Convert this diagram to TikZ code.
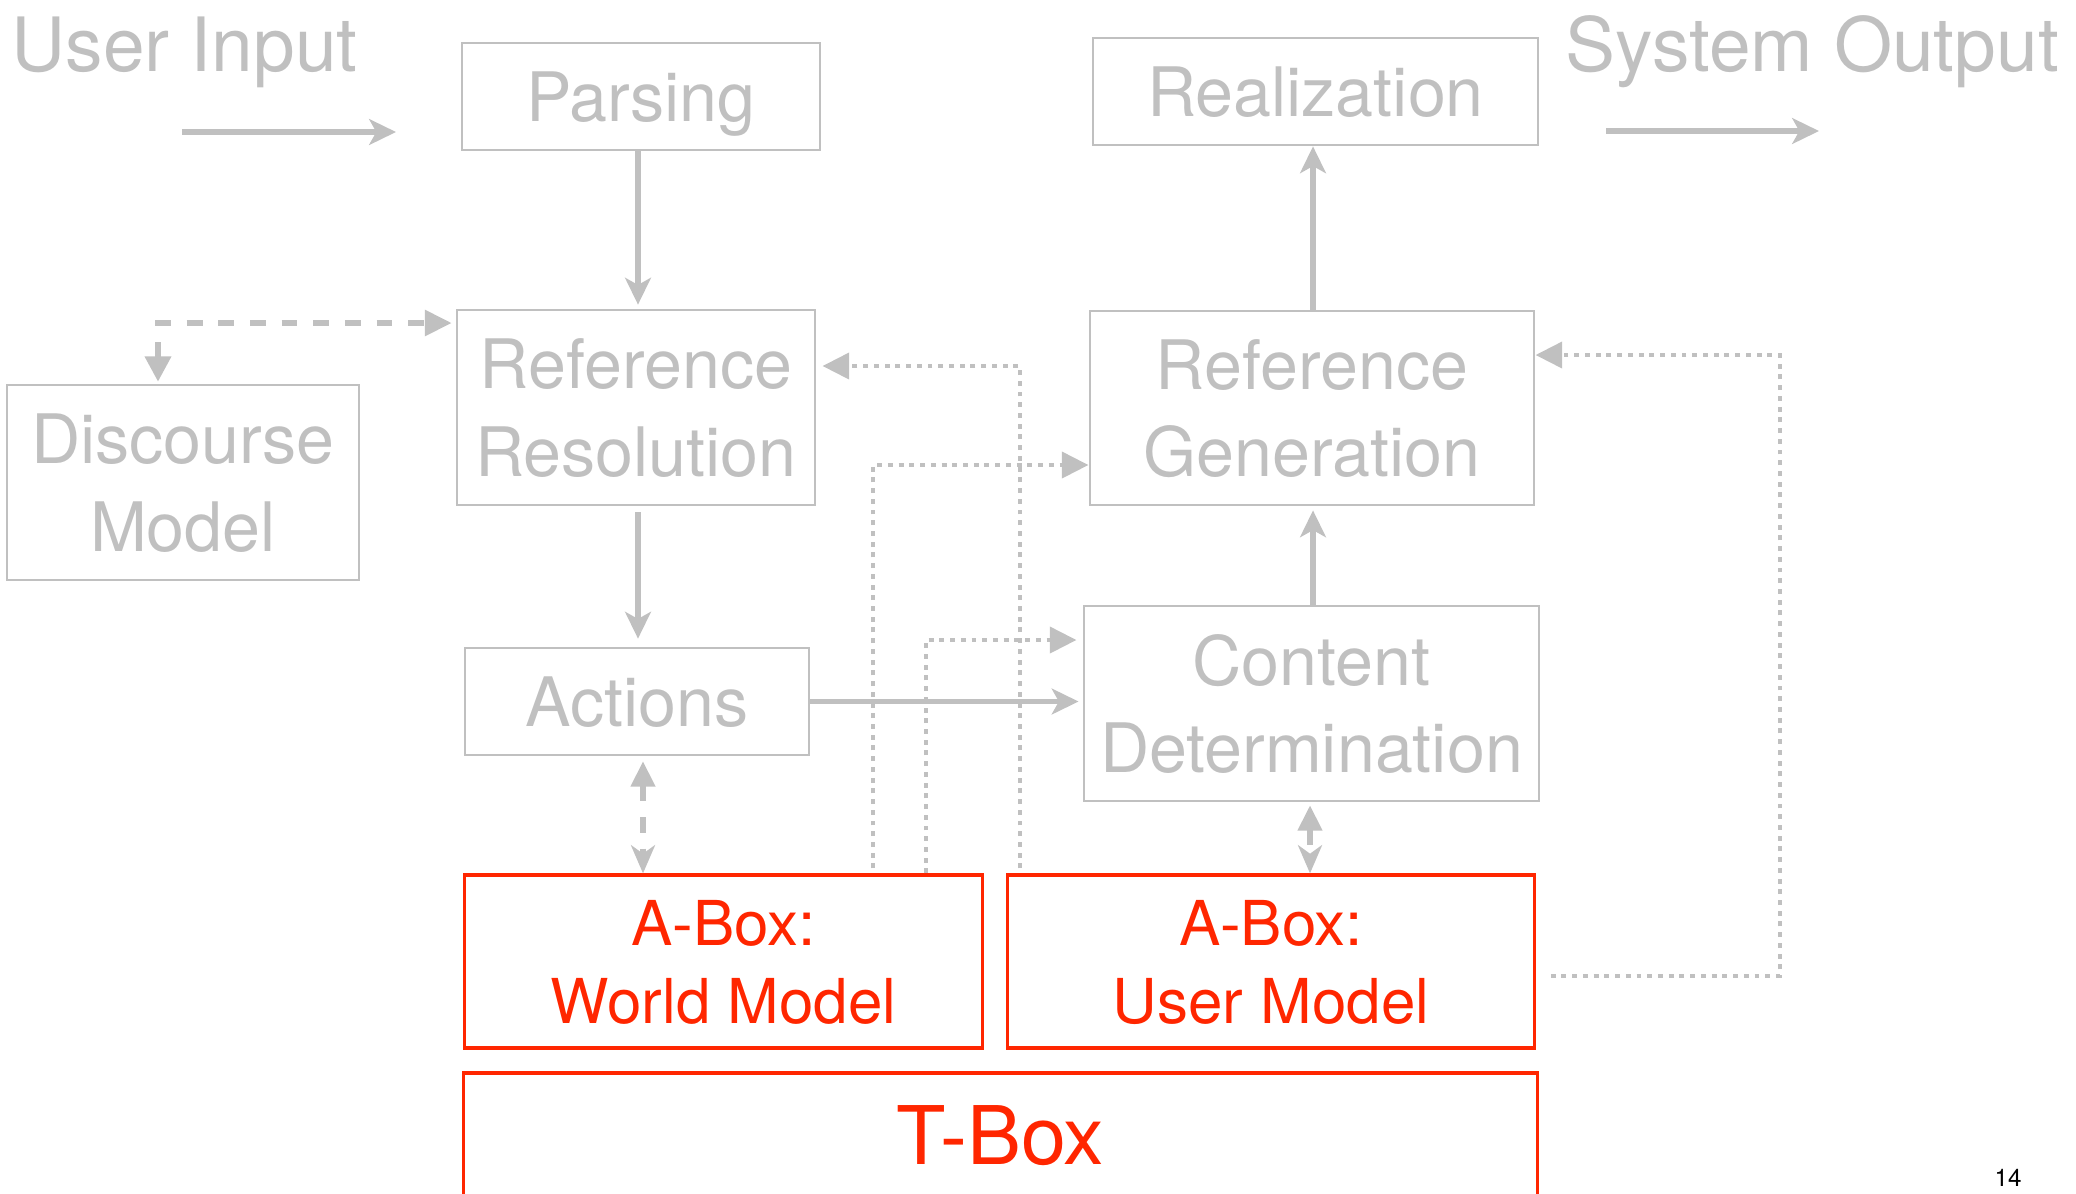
\documentclass[tikz,border=0pt]{standalone}
\usepackage{fontspec}
\setmainfont{TeX Gyre Heros}
\usetikzlibrary{arrows.meta,calc}
\definecolor{boxgrey}{RGB}{192,192,192}
\definecolor{kbred}{RGB}{255,38,0}

\begin{document}
\begin{tikzpicture}[x=0.01cm,y=-0.01cm,
  stage/.style={draw=boxgrey, line width=0.75pt, text=boxgrey, align=center,
    inner sep=0pt, text depth=0pt, font=\fontsize{19.4}{25}\selectfont},
  kbox/.style={draw=kbred, line width=0.9pt, text=kbred, align=center,
    inner sep=0pt, text depth=0pt, font=\fontsize{17.6}{22.2}\selectfont},
  heading/.style={text=boxgrey, inner sep=0pt, anchor=base west,
    font=\fontsize{21.3}{25}\selectfont},
  flow/.style={draw=boxgrey, line width=1.45pt,
    -{Stealth[length=7.6pt,width=7.3pt,inset=2pt]}},
  dashlink/.style={draw=boxgrey, line width=1.45pt,
    dash pattern=on 4.5pt off 4.5pt},
  dotlink/.style={draw=boxgrey, line width=1.4pt,
    dash pattern=on 1.4pt off 1.65pt,
    -{Triangle[length=7.6pt,width=7.3pt]}},
  twoway/.style={{Triangle[length=7.2pt,width=6.8pt]}-{Stealth[length=8pt,width=6.8pt,inset=2.4pt]}}
]
\useasboundingbox (0,0) rectangle (2076,1193);
\clip (0,0) rectangle (2076,1193);

% pipeline stages
\node[stage, minimum width=3.58cm, minimum height=1.07cm] (parse) at (641,96.5) {Parsing};
\node[stage, minimum width=4.45cm, minimum height=1.07cm] (real) at (1315.5,91.5) {Realization};
\node[stage, minimum width=3.58cm, minimum height=1.95cm] (rr) at (636,407.5) {Reference\\Resolution};
\node[stage, minimum width=4.44cm, minimum height=1.94cm] (rg) at (1312,408) {Reference\\Generation};
\node[stage, minimum width=3.52cm, minimum height=1.95cm] (dm) at (183,482.5) {Discourse\\Model};
\node[stage, minimum width=3.44cm, minimum height=1.07cm] (act) at (637,701.5) {Actions};
\node[stage, minimum width=4.55cm, minimum height=1.95cm] (cd) at (1311.5,703.5) {Content\\Determination};

% knowledge base
\node[kbox, minimum width=5.17cm, minimum height=1.73cm] (wm) at (723.5,961.5) {A-Box:\\World Model};
\node[kbox, minimum width=5.26cm, minimum height=1.73cm] (um) at (1271,961.5) {A-Box:\\User Model};
\node[draw=kbred, line width=0.9pt, minimum width=10.73cm, minimum height=2cm, inner sep=0pt] (tbox) at (1000.5,1173) {};
\node[text=kbred, inner sep=0pt, font=\fontsize{23}{26}\selectfont] (tboxtext) at (1000.5,1135.5) {T-Box};

% input and output
\node[heading] (uin) at (11,71) {User Input};
\node[heading] (sout) at (1565,71) {System Output};
\coordinate (inA) at (182,132);
\coordinate (inB) at (396,132);
\coordinate (outA) at (1606,131);
\coordinate (outB) at (1819,131);

% dotted links from the A-Boxes
\coordinate (w2g) at (873,465);
\coordinate (u2r) at (1020,366);
\coordinate (w2c) at (926,640);
\coordinate (u2gA) at (1780,976);
\coordinate (u2gB) at (1780,355);
\draw[dotlink, shorten <=0.05cm] (wm.north -| w2g) -- (w2g) -- (w2g -| rg.west);
\draw[dotlink, shorten <=0.05cm, shorten >=0.06cm] (um.north -| u2r) -- (u2r) -- (u2r -| rr.east);
\draw[dotlink, shorten >=0.06cm] (wm.north -| w2c) -- (w2c) -- (w2c -| cd.west);
\draw[dotlink, shorten <=0.15cm] (um.east |- u2gA) -- (u2gA) -- (u2gB) -- (u2gB -| rg.east);

% main flow
\coordinate (colL) at (638,0);
\coordinate (colR) at (1313,0);
\draw[flow] (inA) -- (inB);
\draw[flow] (outA) -- (outB);
\draw[flow, shorten >=0.04cm] (parse.south -| colL) -- (rr.north -| colL);
\draw[flow, shorten <=0.06cm, shorten >=0.08cm] (rr.south -| colL) -- (act.north -| colL);
\draw[flow, shorten >=0.04cm] (act.east) -- (cd.west |- act.east);
\draw[flow, shorten >=0.04cm] (cd.north -| colR) -- (rg.south -| colR);
\draw[flow] (rg.north -| colR) -- (real.south -| colR);

% dashed links
\coordinate (dmx) at (158,323);
\coordinate (awx) at (643,0);
\coordinate (cux) at (1310,0);
\draw[dashlink, {Triangle[length=7.2pt,width=7.3pt]}-{Triangle[length=7.6pt,width=7.2pt]},
  shorten <=0.02cm, shorten >=0.04cm] (dm.north -| dmx) |- (rr.west |- dmx);
\draw[dashlink, twoway, shorten <=0.05cm] (act.south -| awx) -- (wm.north -| awx);
\draw[dashlink, twoway, shorten <=0.03cm] (cd.south -| cux) -- (um.north -| cux);

% slide number
\node[anchor=base west, inner sep=0pt, font=\fontsize{6.9}{8}\selectfont] (pgnum) at (1994,1186) {14};
\end{tikzpicture}
\end{document}
